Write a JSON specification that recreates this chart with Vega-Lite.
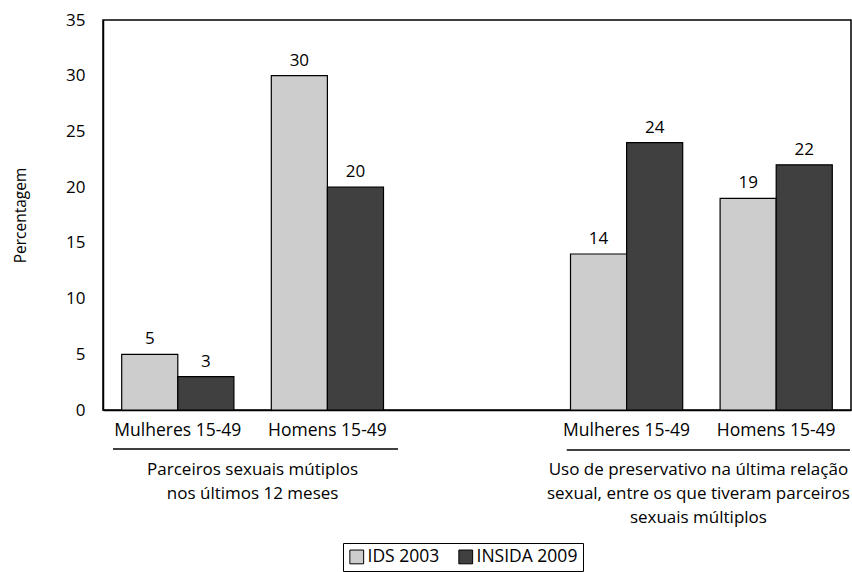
{
  "$schema": "https://vega.github.io/schema/vega-lite/v6.json",
  "width": 748,
  "height": 390,
  "autosize": {"type": "none"},
  "padding": {"left": 103, "top": 20, "right": 1, "bottom": 162},
  "background": "#ffffff",
  "config": {
    "view": {"stroke": "#000000", "strokeWidth": 1.5},
    "font": "Open Sans",
    "text": {"color": "#000000"}
  },
  "datasets": {
    "bars": [
      {"slot": "g1", "series": "IDS 2003", "value": 5},
      {"slot": "g1", "series": "INSIDA 2009", "value": 3},
      {"slot": "g2", "series": "IDS 2003", "value": 30},
      {"slot": "g2", "series": "INSIDA 2009", "value": 20},
      {"slot": "g3", "series": "IDS 2003", "value": 14},
      {"slot": "g3", "series": "INSIDA 2009", "value": 24},
      {"slot": "g4", "series": "IDS 2003", "value": 19},
      {"slot": "g4", "series": "INSIDA 2009", "value": 22}
    ],
    "lines": [
      {"x1": 0.067, "x2": 1.972, "y": -3.5},
      {"x1": 3.1, "x2": 4.993, "y": -3.6}
    ],
    "titles": [
      {"x": 1.0, "y": -5.85, "label": ["Parceiros sexuais mútiplos", "nos últimos 12 meses"]},
      {"x": 3.98, "y": -5.85, "label": ["Uso de preservativo na última relação", "sexual, entre os que tiveram parceiros", "sexuais múltiplos"]}
    ]
  },
  "layer": [
    {
      "data": {"name": "bars"},
      "mark": {"type": "bar", "stroke": "#000000", "strokeWidth": 1.2},
      "encoding": {
        "x": {
          "field": "slot", "type": "nominal",
          "scale": {"domain": ["g1", "g2", "gap", "g3", "g4"], "paddingInner": 0.25, "paddingOuter": 0.125},
          "axis": {
            "title": null,
            "labelExpr": "datum.value == 'g1' || datum.value == 'g3' ? 'Mulheres 15-49' : datum.value == 'gap' ? '' : 'Homens 15-49'",
            "labelAngle": 0, "ticks": false, "labelPadding": 11, "labelFontSize": 17.5,
            "labelOverlap": false, "labelBaseline": "top",
            "domainColor": "#000000", "domainWidth": 1.5, "labelColor": "#000000"
          }
        },
        "xOffset": {"field": "series", "type": "nominal", "scale": {"domain": ["IDS 2003", "INSIDA 2009"]}},
        "y": {
          "field": "value", "type": "quantitative",
          "scale": {"domain": [0, 35], "nice": false},
          "axis": {
            "title": "Percentagem", "values": [0, 5, 10, 15, 20, 25, 30, 35],
            "ticks": false, "grid": false, "labelPadding": 18, "labelFontSize": 17,
            "labelColor": "#000000", "domainColor": "#000000", "domainWidth": 1.5,
            "titleFontSize": 15.5, "titleFontWeight": "normal", "titleColor": "#000000",
            "titleX": -83, "titleY": 195, "titleAngle": -90, "titleAlign": "center", "titleBaseline": "middle"
          }
        },
        "color": {
          "field": "series", "type": "nominal",
          "scale": {"domain": ["IDS 2003", "INSIDA 2009"], "range": ["#cdcdcd", "#404040"]},
          "legend": {
            "orient": "none", "legendX": 240, "legendY": 523, "direction": "horizontal",
            "title": null, "symbolType": "square", "symbolSize": 190,
            "symbolStrokeColor": "#000000", "symbolStrokeWidth": 1, "symbolOpacity": 1,
            "labelFontSize": 17.5, "labelColor": "#000000", "strokeColor": "#000000",
            "padding": 5, "columnPadding": 16, "labelOffset": 2
          }
        }
      }
    },
    {
      "data": {"name": "bars"},
      "mark": {"type": "text", "baseline": "bottom", "dy": -6, "fontSize": 17},
      "encoding": {
        "x": {"field": "slot", "type": "nominal", "scale": {"domain": ["g1", "g2", "gap", "g3", "g4"], "paddingInner": 0.25, "paddingOuter": 0.125}, "axis": null},
        "xOffset": {"field": "series", "type": "nominal", "scale": {"domain": ["IDS 2003", "INSIDA 2009"]}},
        "y": {"field": "value", "type": "quantitative", "scale": {"domain": [0, 35], "nice": false}},
        "text": {"field": "value", "type": "quantitative"}
      }
    },
    {
      "data": {"name": "lines"},
      "mark": {"type": "rule", "strokeWidth": 1.5, "color": "#000000"},
      "encoding": {
        "x": {"field": "x1", "type": "quantitative", "scale": {"domain": [0, 5], "nice": false, "zero": false}, "axis": null},
        "x2": {"field": "x2"},
        "y": {"field": "y", "type": "quantitative", "scale": {"domain": [0, 35], "nice": false}}
      }
    },
    {
      "data": {"name": "titles"},
      "mark": {"type": "text", "baseline": "alphabetic", "align": "center", "lineHeight": 24, "fontSize": 17},
      "encoding": {
        "x": {"field": "x", "type": "quantitative", "scale": {"domain": [0, 5], "nice": false, "zero": false}, "axis": null},
        "y": {"field": "y", "type": "quantitative", "scale": {"domain": [0, 35], "nice": false}},
        "text": {"field": "label"}
      }
    }
  ],
  "resolve": {"scale": {"x": "independent", "xOffset": "independent"}}
}
